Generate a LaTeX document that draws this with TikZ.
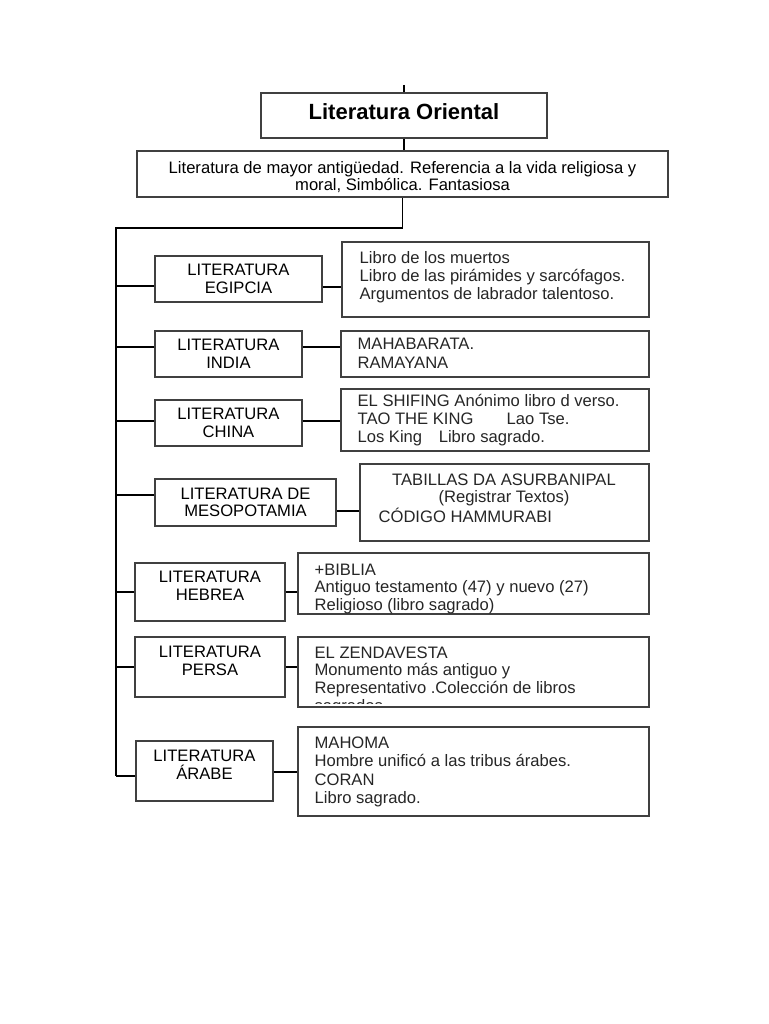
\documentclass[tikz,border=0pt]{standalone}
\usepackage{fontspec}
\setmainfont{Liberation Sans}
\usetikzlibrary{calc, positioning}
\newcommand{\bodyfont}{\fontsize{16.6}{17.7}\selectfont}
\newcommand{\lowpad}{\rule[-12pt]{0pt}{0pt}}

\begin{document}
\begin{tikzpicture}[x=1pt, y=-1pt, line width=1.2pt,
    lbox/.style={draw=black!75, rectangle, align=center, font=\bodyfont, inner sep=0pt},
    rbox/.style={draw=black!75, rectangle, inner sep=0pt},
    rtext/.style={anchor=north west, align=left, font=\bodyfont, inner sep=0pt, text=black!85}]
    \useasboundingbox[fill=white] (0,0) rectangle (768,1024);

    % heading
    \node[rbox, minimum width=286pt, minimum height=45pt, font=\fontsize{22}{24}\bfseries] (title) at (404,115.5) {Literatura Oriental\rule[-7pt]{0pt}{0pt}};
    \node[lbox, minimum width=531pt, minimum height=46pt] (desc) at (402.5,174) {\rule{0pt}{18pt}Literatura de mayor antigüedad. Referencia a la vida religiosa y\\moral, Simbólica. Fantasiosa};
    \coordinate (top) at (404,85);
    \coordinate (trunk) at (116,228);
    \coordinate (trunkEnd) at (116,776);

    % left column
    \node[lbox, minimum width=167pt, minimum height=46pt] (egL) at (238.5,279) {LITERATURA\\EGIPCIA};
    \node[lbox, minimum width=147pt, minimum height=46pt] (inL) at (228.5,354) {LITERATURA\\INDIA};
    \node[lbox, minimum width=147pt, minimum height=46pt] (chL) at (228.5,423) {LITERATURA\\CHINA};
    \node[lbox, minimum width=181pt, minimum height=47pt] (meL) at (245.5,502.5) {LITERATURA DE\\MESOPOTAMIA};
    \node[lbox, minimum width=150pt, minimum height=58pt] (heL) at (210,592) {LITERATURA\\HEBREA\lowpad};
    \node[lbox, minimum width=150pt, minimum height=60pt] (peL) at (210,667) {LITERATURA\\PERSA\lowpad};
    \node[lbox, minimum width=137pt, minimum height=60pt] (arL) at (204.5,771) {LITERATURA\\ÁRABE\lowpad};

    % right column
    \node[rbox, minimum width=307pt, minimum height=75pt] (egR) at (495.5,279.5) {};
    \node[rbox, minimum width=308pt, minimum height=46pt] (inR) at (495,354) {};
    \node[rbox, minimum width=308pt, minimum height=62pt] (chR) at (495,420) {};
    \node[rbox, minimum width=289pt, minimum height=77pt] (meR) at (504.5,502.5) {};
    \node[rbox, minimum width=351pt, minimum height=61pt] (heR) at (473.5,583.5) {};
    \node[rbox, minimum width=351pt, minimum height=70pt] (peR) at (473.5,672) {};
    \node[rbox, minimum width=351pt, minimum height=89pt] (arR) at (473.5,771.5) {};

    \node[rtext] (egT) at (359,251) {Libro de los muertos\\Libro de las pirámides y sarcófagos.\\Argumentos de labrador talentoso.};
    \node[rtext] (inT) at (357,337) {MAHABARATA.\\[2pt]RAMAYANA};
    \node[rtext] (chT) at (357,394) {EL SHIFING Anónimo libro d verso.\\TAO THE KING\hspace{2em}Lao Tse.\\Los King\hspace{1em}Libro sagrado.};
    \node[rtext, anchor=north, align=center] (meT) at (504,473) {TABILLAS DA ASURBANIPAL\\(Registrar Textos)};
    \node[rtext, anchor=base west] (meC) at (378,522) {CÓDIGO HAMMURABI};
    \node[rtext] (heT) at (314,563) {+BIBLIA\\Antiguo testamento (47) y nuevo (27)\\Religioso (libro sagrado)};
    \begin{scope}
        \clip (peR.north west) rectangle ([yshift=4pt]peR.south east);
        \node[rtext] (peT) at (314,646) {EL ZENDAVESTA\\Monumento más antiguo y\\Representativo .Colección de libros\\sagrados.};
    \end{scope}
    \node[rtext] (arT) at (314,736) {MAHOMA\\[0.8pt]Hombre unificó a las tribus árabes.\\[0.8pt]CORAN\\[0.8pt]Libro sagrado.};

    % connectors
    \draw (top) -- (title.north);
    \draw (title.south) -- (title.south |- desc.north);
    \draw (desc.south) |- (trunk) -- (trunkEnd);
    \foreach \l/\b in {egL/7, inL/-7, chL/-2, meL/-7.5, heL/0, peL/0, arL/5}
        \draw ($(\l.west)+(0,\b)$) coordinate (tmp) -- (tmp -| trunk);
    \foreach \l/\r/\s in {egL/egR/8, inL/inR/-7, chL/chR/-2, meL/meR/8.5, heL/heR/0, peL/peR/0, arL/arR/1}
        \draw ($(\l.east)+(0,\s)$) coordinate (tmp) -- (tmp -| \r.west);
\end{tikzpicture}
\end{document}
